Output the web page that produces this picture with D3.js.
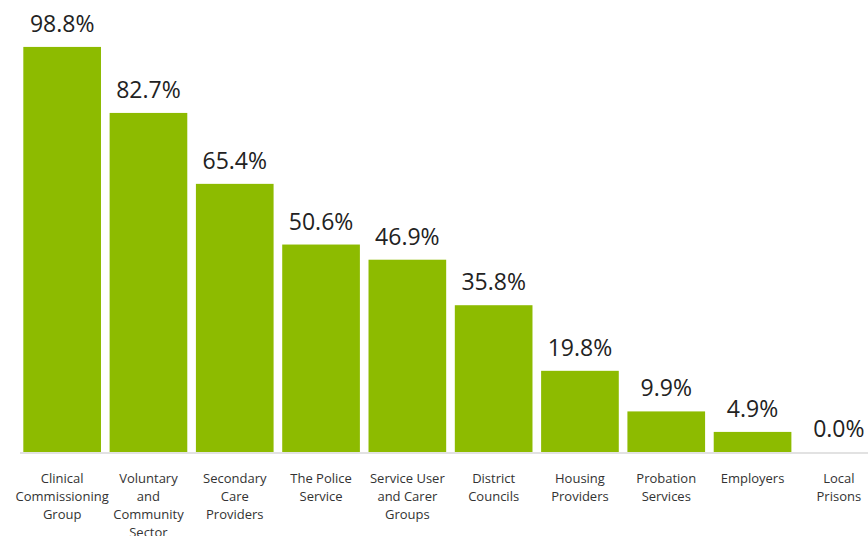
<!DOCTYPE html>
<html>
<head>
<meta charset="utf-8">
<script src="https://cdn.jsdelivr.net/npm/d3@7"></script>
<style>
  body { margin: 0; background: #fff; }
  text { font-family: "Open Sans", "Noto Sans", sans-serif; }
</style>
</head>
<body>
<div id="chart"></div>
<script>
// ---------- DATA ----------
const categories = [
	["Clinical", "Commissioning", "Group"],
	["Voluntary", "and", "Community", "Sector"],
	["Secondary", "Care", "Providers"],
	["The Police", "Service"],
	["Service User", "and Carer", "Groups"],
	["District", "Councils"],
	["Housing", "Providers"],
	["Probation", "Services"],
	["Employers"],
	["Local", "Prisons"],
];
const values = [98.8, 82.7, 65.4, 50.6, 46.9, 35.8, 19.8, 9.9, 4.9, 0.0];

const width = 868;
const height = 536;

const svg = d3
	.select("#chart")
	.append("svg")
	.attr("width", width)
	.attr("height", height);

const x = d3
	.scaleBand()
	.domain(d3.range(values.length))
	.range([19, 882])
	.paddingInner(0.1)
	.paddingOuter(0.05);

const y = d3.scaleLinear().domain([0, 100]).range([452, 42]);

// bars
svg.append("g")
	.selectAll("rect")
	.data(values)
	.enter()
	.append("rect")
	.attr("x", (d, i) => x(i))
	.attr("y", (d) => y(d))
	.attr("width", x.bandwidth())
	.attr("height", (d) => y(0) - y(d))
	.attr("fill", "#8dbb00");

// baseline
svg.append("line")
	.attr("x1", 20)
	.attr("x2", width)
	.attr("y1", y(0) + 1)
	.attr("y2", y(0) + 1)
	.attr("stroke", "#d9d9d9")
	.attr("stroke-width", 1.5);

// value labels
svg.append("g")
	.selectAll("text")
	.data(values)
	.enter()
	.append("text")
	.attr("x", (d, i) => x(i) + x.bandwidth() / 2)
	.attr("y", (d) => y(d) - 15)
	.attr("text-anchor", "middle")
	.attr("font-size", 23)
	.attr("fill", "#222")
	.text((d) => d.toFixed(1) + "%");

// category labels
const cat = svg.append("g")
	.selectAll("text")
	.data(categories)
	.enter()
	.append("text")
	.attr("text-anchor", "middle")
	.attr("font-size", 13)
	.attr("fill", "#333");

cat.each(function (lines, i) {
	d3.select(this)
		.selectAll("tspan")
		.data(lines)
		.enter()
		.append("tspan")
		.attr("x", x(i) + x.bandwidth() / 2)
		.attr("y", (d, j) => 483 + j * 18)
		.text((d) => d);
});
</script>
</body>
</html>
